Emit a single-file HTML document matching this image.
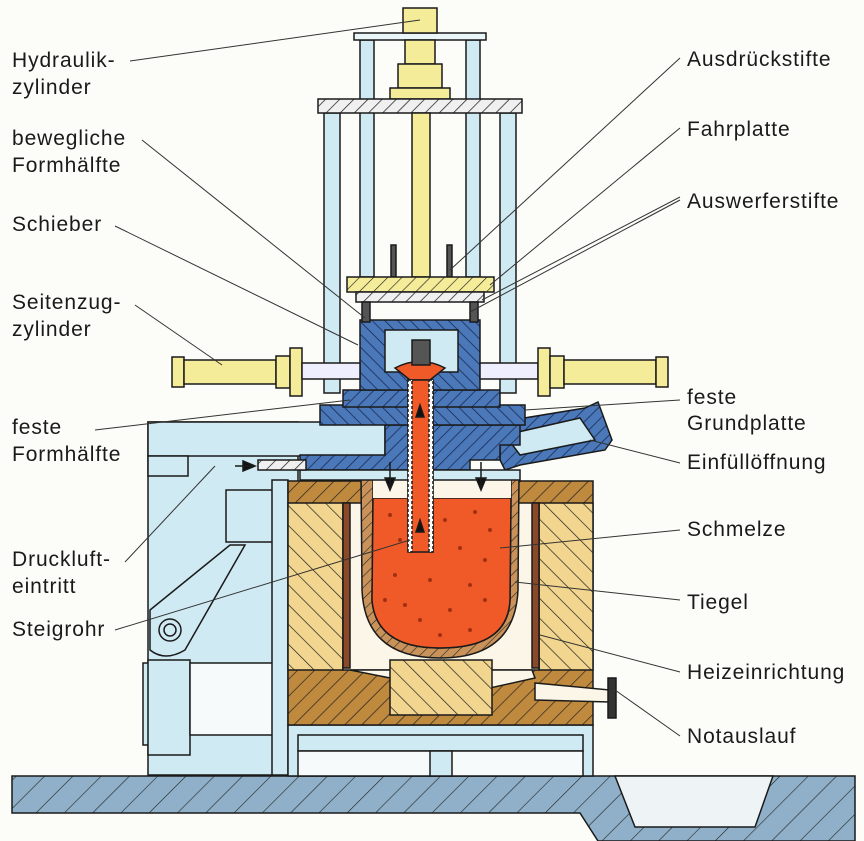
<!DOCTYPE html>
<html><head><meta charset="utf-8"><style>
html,body{margin:0;padding:0;background:#fcfcf8;}
svg{display:block;}
text{font-family:"Liberation Sans",sans-serif;font-size:21px;fill:#1a1a1a;letter-spacing:0.9px;}
</style></head><body>
<svg width="864" height="841" viewBox="0 0 864 841" xmlns="http://www.w3.org/2000/svg">
<defs>
<pattern id="hb" width="9" height="9" patternUnits="userSpaceOnUse" patternTransform="rotate(45)"><rect width="9" height="9" fill="#4a78b8"/><line x1="0" y1="0" x2="0" y2="9" stroke="#1b2a55" stroke-width="1.6"/></pattern>
<pattern id="hb2" width="9" height="9" patternUnits="userSpaceOnUse" patternTransform="rotate(-45)"><rect width="9" height="9" fill="#4a78b8"/><line x1="0" y1="0" x2="0" y2="9" stroke="#1b2a55" stroke-width="1.6"/></pattern>
<pattern id="hy" width="14" height="14" patternUnits="userSpaceOnUse" patternTransform="rotate(-45)"><rect width="14" height="14" fill="#f2d58e"/><line x1="0" y1="0" x2="0" y2="14" stroke="#222" stroke-width="1.4"/></pattern>
<pattern id="hbr" width="12" height="12" patternUnits="userSpaceOnUse" patternTransform="rotate(45)"><rect width="12" height="12" fill="#c08a3e"/><line x1="0" y1="0" x2="0" y2="12" stroke="#222" stroke-width="1.4"/></pattern>
<pattern id="hg" width="20" height="20" patternUnits="userSpaceOnUse" patternTransform="rotate(45)"><rect width="20" height="20" fill="#8fb0c8"/><line x1="0" y1="0" x2="0" y2="20" stroke="#222" stroke-width="1.2"/></pattern>
<pattern id="hw" width="10" height="10" patternUnits="userSpaceOnUse" patternTransform="rotate(45)"><rect width="10" height="10" fill="#f0f0f0"/><line x1="0" y1="0" x2="0" y2="10" stroke="#222" stroke-width="1.5"/></pattern>
<pattern id="hyp" width="10" height="10" patternUnits="userSpaceOnUse" patternTransform="rotate(45)"><rect width="10" height="10" fill="#f4ec98"/><line x1="0" y1="0" x2="0" y2="10" stroke="#222" stroke-width="1.3"/></pattern>
<pattern id="ht" width="8" height="8" patternUnits="userSpaceOnUse" patternTransform="rotate(45)"><rect width="8" height="8" fill="#c9925a"/><line x1="0" y1="0" x2="0" y2="8" stroke="#222" stroke-width="1.2"/></pattern>
</defs>
<g stroke="#1a1a1a" stroke-width="1.5">
<!-- ground -->
<path d="M12 776 H855 V841 H598 L580 813 H12 Z" fill="url(#hg)"/>
<path d="M615 776 H773 L755 827 H635 Z" fill="#eef4f6"/>
<!-- left frame -->
<rect x="148" y="422" width="150" height="353" fill="#cfeaf3"/>
<rect x="148" y="422" width="237" height="34" fill="#cfeaf3"/>
<rect x="148" y="456" width="40" height="20" fill="#cfeaf3"/>
<rect x="226" y="490" width="47" height="52" fill="#cfeaf3"/>
<path d="M150 610 L150 650 Q165 662 185 650 L245 545 L230 545 Z" fill="#cfeaf3"/>
<circle cx="170" cy="630" r="11" fill="#cfeaf3"/><circle cx="170" cy="630" r="6" fill="none"/>
<rect x="143" y="663" width="10" height="82" fill="#cfeaf3"/>
<rect x="148" y="660" width="42" height="95" fill="#cfeaf3"/>
<rect x="190" y="663" width="100" height="72" fill="#f6fafa"/>
<rect x="272" y="480" width="16" height="295" fill="#cfeaf3"/>
<!-- base frame under furnace -->
<rect x="288" y="725" width="305" height="51" fill="#cfeaf3"/>
<rect x="298" y="735" width="285" height="16" fill="#cfeaf3"/>
<rect x="298" y="751" width="285" height="25" fill="#f6fafa"/>
<rect x="430" y="751" width="22" height="25" fill="#cfeaf3"/>
<!-- furnace -->
<rect x="288" y="481" width="305" height="244" fill="url(#hbr)"/>
<rect x="288" y="503" width="55" height="167" fill="url(#hy)"/>
<rect x="539" y="503" width="54" height="167" fill="url(#hy)"/>
<rect x="343" y="503" width="196" height="167" fill="#fbf6e8"/>
<rect x="343" y="503" width="7" height="165" fill="#8a4a2a"/>
<rect x="532" y="503" width="7" height="165" fill="#8a4a2a"/>
<path d="M350 670 L400 680 L400 670 Z" fill="#fbf6e8"/>
<path d="M490 670 H532 L535 678 L490 688 Z" fill="#fbf6e8"/>
<rect x="390" y="660" width="102" height="55" fill="url(#hy)"/>
<!-- notauslauf -->
<path d="M535 683 L610 690 L610 702 L535 700 Z" fill="#fbf6e8"/>
<rect x="608" y="678" width="8" height="40" fill="#333"/>
<!-- crucible -->
<path d="M361 475 H373 V498 L372 600 Q376 648 440 648 Q508 648 510 600 L511 498 V475 H519 L518 590 Q515 658 440 658 Q365 658 362 590 Z" fill="url(#ht)"/>
<path d="M373 498 H511 L510 600 Q508 648 440 648 Q376 648 372 600 Z" fill="#f05a28"/>
<rect x="373" y="478" width="138" height="20" fill="#fbf6e8" stroke="none"/>
<g fill="#a03010" stroke="none">
<circle cx="390" cy="515" r="2"/><circle cx="445" cy="520" r="2"/><circle cx="475" cy="512" r="2"/><circle cx="490" cy="530" r="2"/><circle cx="400" cy="540" r="2"/><circle cx="460" cy="548" r="2"/><circle cx="485" cy="560" r="2"/><circle cx="395" cy="575" r="2"/><circle cx="430" cy="580" r="2"/><circle cx="470" cy="585" r="2"/><circle cx="405" cy="605" r="2"/><circle cx="450" cy="610" r="2"/><circle cx="485" cy="600" r="2"/><circle cx="420" cy="620" r="2"/><circle cx="470" cy="630" r="2"/><circle cx="440" cy="635" r="2"/><circle cx="385" cy="600" r="2"/>
</g>
<!-- Einfüllöffnung -->
<path d="M500 422 L585 408 L598 402 L612 440 L605 450 L520 465 L505 470 L500 460 Z" fill="url(#hb)"/>
<path d="M505 435 L580 418 L595 440 L520 455 Z" fill="#cfeaf3"/>
<!-- mould base / plates -->
<path d="M300 455 H385 V425 H520 V445 H500 V460 H470 V470 H300 Z" fill="url(#hb)"/>
<rect x="300" y="470" width="220" height="10" fill="#cfeaf3"/>
<rect x="320" y="405" width="205" height="20" fill="url(#hb2)"/>
<rect x="343" y="390" width="157" height="17" fill="url(#hb)"/>
<path d="M360 320 H480 V390 H360 Z" fill="url(#hb2)"/>
<path d="M385 330 H458 V372 L440 372 L425 360 L405 372 H385 Z" fill="#cfeaf3"/>
<path d="M395 368 Q420 355 445 368 L430 380 H410 Z" fill="#f05a28"/>
<rect x="412" y="340" width="18" height="25" fill="#555"/>
<!-- steigrohr -->
<rect x="408" y="380" width="25" height="172" fill="#f05a28"/>
<rect x="408" y="380" width="4" height="172" fill="#fff" stroke-dasharray="3 2"/>
<rect x="429" y="380" width="4" height="172" fill="#fff" stroke-dasharray="3 2"/>
<path d="M420 405 l-4 12 h8 Z M420 520 l-4 12 h8 Z" fill="#111"/>
<!-- compressed air -->
<rect x="258" y="460" width="48" height="10" fill="url(#hw)"/>
<path d="M235 466 L255 466 M243 461 L255 466 L243 471 Z" fill="#111"/>
<path d="M390 462 V490 M385 478 l5 12 l5 -12 Z M481 462 V490 M476 478 l5 12 l5 -12 Z" fill="#111"/>
<!-- columns -->
<rect x="324" y="113" width="16" height="280" fill="#cfeaf3"/>
<rect x="500" y="113" width="16" height="280" fill="#cfeaf3"/>
<rect x="360" y="40" width="14" height="237" fill="#cfeaf3"/>
<rect x="466" y="40" width="14" height="237" fill="#cfeaf3"/>
<rect x="354" y="33" width="132" height="7" fill="#eaf6f8"/>
<rect x="403" y="8" width="34" height="25" fill="#f4ec98"/>
<rect x="405" y="40" width="30" height="24" fill="#f4ec98"/>
<rect x="398" y="64" width="44" height="24" fill="#f4ec98"/>
<rect x="390" y="88" width="60" height="11" fill="#f4ec98"/>
<rect x="318" y="99" width="204" height="14" fill="url(#hw)"/>
<rect x="412" y="113" width="18" height="164" fill="#f4ec98"/>
<rect x="391" y="245" width="5" height="32" fill="#555"/>
<rect x="447" y="245" width="5" height="32" fill="#555"/>
<rect x="347" y="277" width="147" height="15" fill="url(#hyp)"/>
<rect x="356" y="292" width="128" height="10" fill="url(#hw)"/>
<rect x="362" y="302" width="8" height="20" fill="#555"/>
<rect x="470" y="302" width="8" height="20" fill="#555"/>
<!-- side cylinders -->
<rect x="172" y="357" width="12" height="30" fill="#f4ec98"/>
<rect x="184" y="360" width="92" height="24" fill="#f4ec98"/>
<rect x="276" y="356" width="14" height="32" fill="#f4ec98"/>
<rect x="290" y="348" width="12" height="48" fill="#f4ec98"/>
<rect x="302" y="363" width="58" height="16" fill="#eef"/>
<rect x="480" y="363" width="58" height="16" fill="#eef"/>
<rect x="538" y="348" width="12" height="48" fill="#f4ec98"/>
<rect x="550" y="356" width="14" height="32" fill="#f4ec98"/>
<rect x="564" y="360" width="92" height="24" fill="#f4ec98"/>
<rect x="656" y="357" width="12" height="30" fill="#f4ec98"/>
</g>
<!-- leader lines -->
<g stroke="#333" stroke-width="1" fill="none">
<path d="M130 61 L420 20"/><path d="M142 140 L365 318"/><path d="M115 226 L358 345"/><path d="M135 305 L222 365"/>
<path d="M95 430 L350 400"/><path d="M125 562 L215 466"/><path d="M115 630 L410 540"/>
<path d="M680 58 L450 270"/><path d="M680 128 L490 285"/><path d="M680 197 L482 300"/><path d="M680 200 L470 312"/>
<path d="M680 400 L525 410"/><path d="M680 463 L590 440"/><path d="M680 530 L500 548"/><path d="M680 600 L515 582"/><path d="M680 672 L540 635"/><path d="M680 736 L615 690"/>
</g>
<!-- labels -->
<text x="12" y="67">Hydraulik-</text><text x="12" y="94">zylinder</text>
<text x="12" y="145">bewegliche</text><text x="12" y="172">Formhälfte</text>
<text x="12" y="231">Schieber</text>
<text x="12" y="309">Seitenzug-</text><text x="12" y="336">zylinder</text>
<text x="12" y="434">feste</text><text x="12" y="461">Formhälfte</text>
<text x="12" y="566">Druckluft-</text><text x="12" y="593">eintritt</text>
<text x="12" y="636">Steigrohr</text>
<text x="687" y="66">Ausdrückstifte</text>
<text x="687" y="136">Fahrplatte</text>
<text x="687" y="208">Auswerferstifte</text>
<text x="687" y="404">feste</text><text x="687" y="430">Grundplatte</text>
<text x="687" y="469">Einfüllöffnung</text>
<text x="687" y="536">Schmelze</text>
<text x="687" y="609">Tiegel</text>
<text x="687" y="679">Heizeinrichtung</text>
<text x="687" y="743">Notauslauf</text>
</svg>
</body></html>
